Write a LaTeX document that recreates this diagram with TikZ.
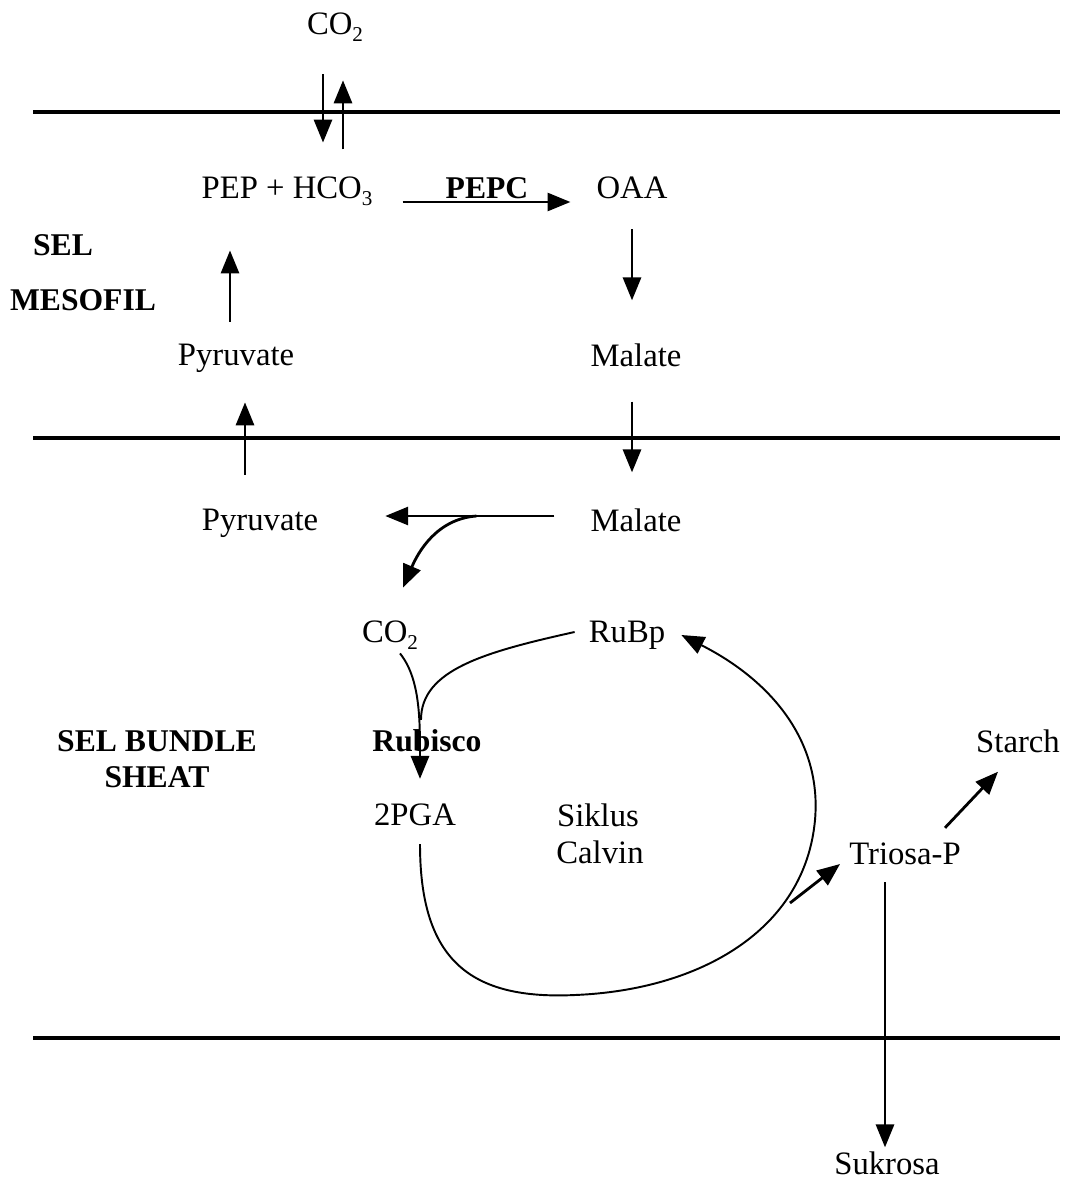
\documentclass[tikz,border=0pt]{standalone}
\usepackage{fontspec}
\setmainfont{Liberation Serif}
\usetikzlibrary{arrows.meta,calc}
\newcommand{\lowsub}[1]{\raisebox{-0.45ex}{\fontsize{6}{7}\selectfont #1}}
\tikzset{
  celltext/.style={font=\fontsize{9.3}{11}\selectfont, inner sep=1pt},
  celllabel/.style={font=\fontsize{9}{11}\selectfont\bfseries, inner sep=1pt},
  membrane/.style={line width=1.1pt},
  flowarrow/.style={-{Triangle[length=6.5pt,width=5.2pt]}, line width=0.55pt},
  cycleline/.style={line width=0.55pt}
}

\begin{document}
\begin{tikzpicture}[x=0.01cm,y=-0.01cm]
\useasboundingbox (0,0) rectangle (1069,1179);
% membranes
\draw[membrane] (33,112) -- (1060,112);
\draw[membrane] (33,438) -- (1060,438);
\draw[membrane] (33,1038) -- (1060,1038);
% mesophyll
\node[celltext] (co2top) at (335,27) {CO\lowsub{2}};
\node[celltext] (pep) at (287,191) {PEP + HCO\lowsub{3}};
\node[celltext] (oaa) at (632,188) {OAA};
\node[celllabel] (pepc) at (487,188) {PEPC};
\node[celltext] (pyr1) at (236,358) {Pyruvate};
\node[celltext] (mal1) at (636,355) {Malate};
\node[celllabel] (selA) at (63,245) {SEL};
\node[celllabel] (selB) at (83,300) {MESOFIL};
% bundle sheath
\node[celltext] (pyr2) at (260,523) {Pyruvate};
\node[celltext] (mal2) at (636,520) {Malate};
\node[celltext] (co2low) at (390,635) {CO\lowsub{2}};
\node[celltext] (rubp) at (627,635) {RuBp};
\node[celllabel] (rubisco) at (427,741) {Rubisco};
\node[celltext] (pga) at (415,815) {2PGA};
\node[celltext] (sik) at (598,815) {Siklus};
\node[celltext] (cal) at (600,852) {Calvin};
\node[celltext] (triosa) at (905,854) {Triosa-P};
\node[celltext] (starch) at (1018,741) {Starch};
\node[celltext] (sukrosa) at (887,1163) {Sukrosa};
\node[celllabel] (selC) at (157,741) {SEL BUNDLE};
\node[celllabel] (selD) at (157,777) {SHEAT};

% exchange of CO2
\draw[flowarrow] ($(co2top.south)+(-12,29)$) -- ($(pep.north)+(36,-30)$);
\draw[flowarrow] ($(pep.north)+(56,-23)$) -- ($(co2top.south)+(8,35)$);
% C4 shuttle
\draw[flowarrow] ($(pep.east)+(26,11)$) -- ($(oaa.west)+(-22,14)$);
\draw[flowarrow] ($(oaa.south)+(0,26)$) -- ($(mal1.north)+(-4,-39)$);
\draw[flowarrow] ($(mal1.south)+(-4,31)$) -- ($(mal2.north)+(-4,-32)$);
\draw[flowarrow] ($(pyr1.north)+(-6,-18)$) -- ($(pep.south)+(-57,41)$);
\draw[flowarrow] ($(pyr2.north)+(-15,-30)$) -- ($(pyr1.south)+(9,26)$);
\draw[flowarrow] ($(mal2.west)+(-32,-4)$) -- ($(pyr2.east)+(63,-7)$);
\coordinate (split) at ($(mal2.west)+(-110,-4)$);
\draw[flowarrow, line width=0.8pt] (split) .. controls +(-40,3) and +(15,-35) .. ($(co2low.north)+(13,-29)$);
% Calvin cycle
\coordinate (join) at ($(pga.north)+(6,-80)$);
\draw[cycleline] ($(rubp.west)+(-10,-3)$) .. controls +(-90,20) and +(0,-50) .. (join);
\draw[flowarrow] ($(co2low.south)+(10,0)$) .. controls +(20,25) and +(0,-60) .. ($(pga.north)+(5,-21)$);
\draw[flowarrow] ($(pga.south)+(5,14)$) .. controls (420,960) and (470,1000) .. (575,995)
  .. controls (700,990) and (805,930) .. (815,820)
  .. controls (822,740) and (770,680) .. ($(rubp.east)+(12,0)$);
\coordinate (tap) at (790,903);
\draw[flowarrow, line width=0.8pt] (tap) -- ($(triosa.west)+(-5,10)$);
\draw[flowarrow, line width=0.8pt] ($(triosa.north)+(40,-11)$) -- ($(starch.south)+(-20,15)$);
\draw[flowarrow] ($(triosa.south)+(-20,13)$) -- ($(sukrosa.north)+(-2,0)$);
\end{tikzpicture}
\end{document}
